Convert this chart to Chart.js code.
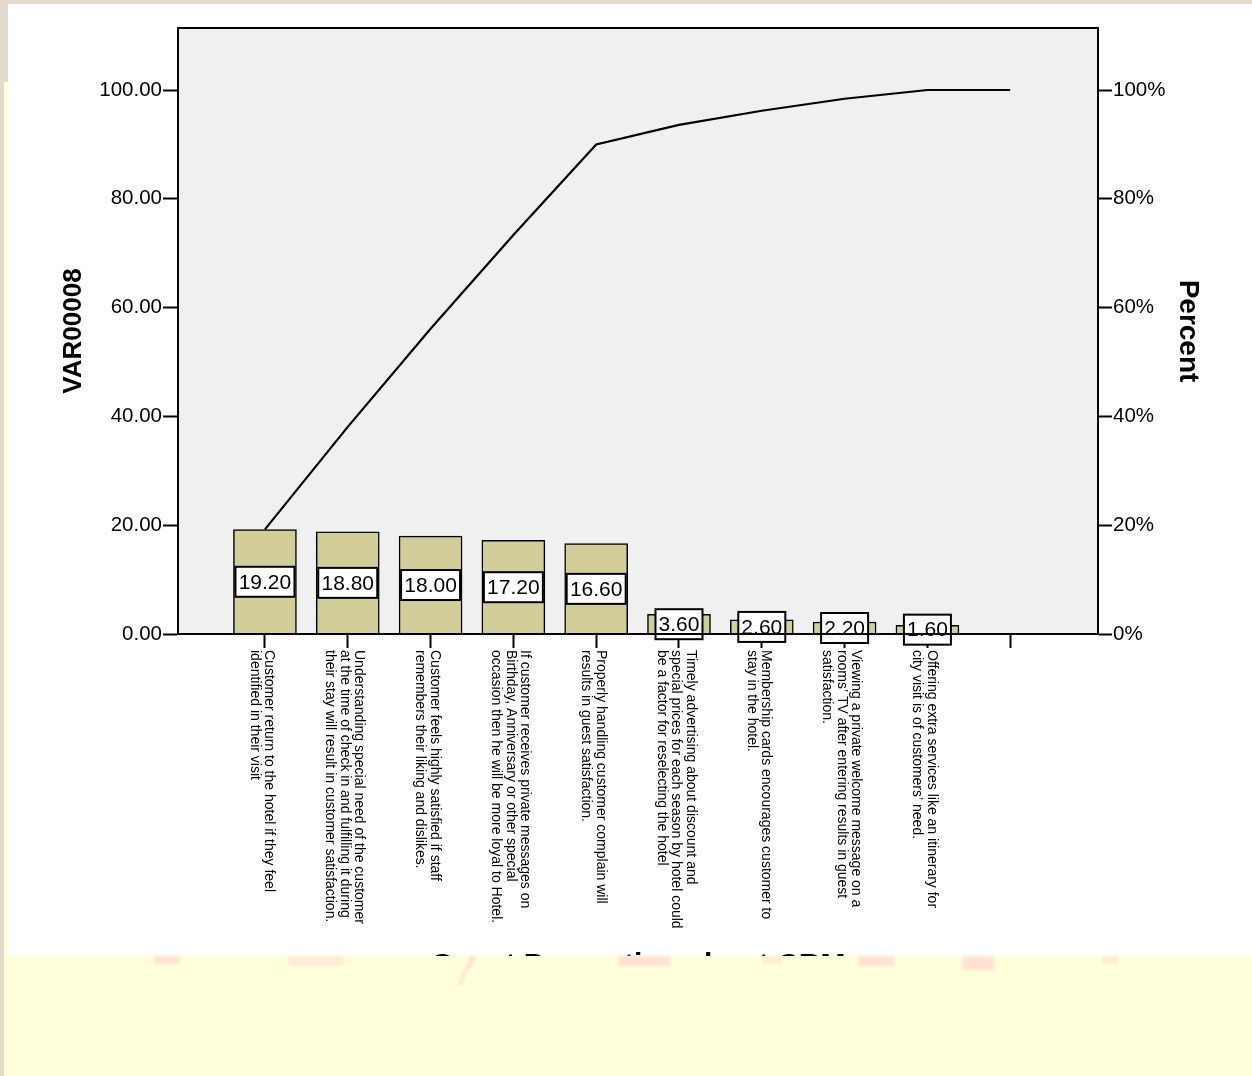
<!DOCTYPE html>
<html>
<head>
<meta charset="utf-8">
<title>Guest Perception about CRM</title>
<script src="https://cdn.jsdelivr.net/npm/chart.js@4/dist/chart.umd.min.js"></script>
<style>
  html, body { margin: 0; padding: 0; width: 1252px; height: 1076px; overflow: hidden; background: #e5dbcc; }
  #panel { position: absolute; left: 8px; top: 4px; width: 1244px; height: 952px; background: #ffffff; }
  #wrap { position: absolute; left: 0; top: 0; width: 1252px; height: 1076px; }
  #band { position: absolute; left: 4px; top: 956px; right: 0; bottom: 0; background: #ffffdc; }
  #strip { position: absolute; left: 4px; top: 82px; width: 4px; height: 874px; background: #ffffdc; }
  .blot { position: absolute; background: #ffd4d0; filter: blur(1.5px); opacity: 0.65; }
</style>
</head>
<body>
<div id="panel"></div>
<div id="wrap"><canvas id="pareto" width="1252" height="1076"></canvas></div>
<div id="strip"></div>
<div id="band">
  <div class="blot" style="left:150px;top:0;width:26px;height:8px;"></div>
  <div class="blot" style="left:284px;top:0;width:56px;height:10px;opacity:0.45;"></div>
  <div class="blot" style="left:464px;top:0;width:6px;height:12px;transform:skewX(-20deg);"></div>
  <div class="blot" style="left:456px;top:12px;width:6px;height:18px;transform:skewX(-20deg);opacity:0.45;"></div>
  <div class="blot" style="left:614px;top:0;width:52px;height:10px;"></div>
  <div class="blot" style="left:758px;top:0;width:20px;height:8px;opacity:0.45;"></div>
  <div class="blot" style="left:854px;top:0;width:36px;height:10px;"></div>
  <div class="blot" style="left:958px;top:0;width:32px;height:14px;"></div>
  <div class="blot" style="left:1098px;top:0;width:16px;height:8px;opacity:0.45;"></div>
</div>
<script>
// Category slots along the x axis (the tenth slot is empty)
const categoryLines = [
  ["Customer return to the hotel if they feel", "identified in their visit"],
  ["Understanding special need of the customer", "at the time of check in and fulfilling it during", "their stay will result in customer satisfaction."],
  ["Customer feels highly satisfied if staff", "remembers their liking and dislikes."],
  ["If customer receives private messages on", "Birthday, Anniversary or other special", "occasion then he will be more loyal to Hotel."],
  ["Properly handling customer complain will", "results in guest satisfaction."],
  ["Timely advertising about discount and", "special prices for each season by hotel could", "be a factor for reselecting the hotel"],
  ["Membership cards encourages customer to", "stay in the hotel."],
  ["Viewing a private welcome message on a", "rooms\u2019 TV after entering results in guest", "satisfaction."],
  ["Offering extra services like an itinerary for", "city visit is of customers\u2019 need."],
  []
];

// Bar heights (VAR00008)
const barValues = [19.20, 18.80, 18.00, 17.20, 16.60, 3.60, 2.60, 2.20, 1.60];

// Cumulative percent line, one point per slot
const cumulativePercent = [19.24, 38.08, 56.11, 73.35, 89.98, 93.59, 96.19, 98.40, 100.00, 100.00];

// Axis tick values
const leftTicks = [0, 20, 40, 60, 80, 100];
const rightTicks = [0, 20, 40, 60, 80, 100];

const FONT = "'Liberation Sans', Arial, Helvetica, sans-serif";
Chart.defaults.font.family = FONT;
Chart.defaults.color = '#000';

// Gray plotting panel and its frame
const panelPlugin = {
  id: 'panel',
  beforeDraw(chart) {
    const { ctx, chartArea: a } = chart;
    ctx.save();
    ctx.fillStyle = '#f0f0f0';
    ctx.fillRect(a.left, a.top, a.right - a.left, a.bottom - a.top);
    ctx.restore();
  },
  afterDraw(chart) {
    const { ctx, chartArea: a } = chart;
    ctx.save();
    ctx.strokeStyle = '#000';
    ctx.lineWidth = 2;
    ctx.beginPath();
    ctx.moveTo(a.left, a.top);
    ctx.lineTo(a.right, a.top);
    ctx.stroke();
    ctx.restore();
  }
};

// Boxed value labels in the middle of each bar
const valueBoxPlugin = {
  id: 'valueBoxes',
  afterDatasetsDraw(chart) {
    const { ctx, scales: { x, y }, chartArea: a } = chart;
    ctx.save();
    ctx.font = '21px ' + FONT;
    barValues.forEach((v, i) => {
      const cx = x.getPixelForValue(i);
      const cy = y.getPixelForValue(v / 2);
      const txt = v.toFixed(2);
      const w = Math.round(ctx.measureText(txt).width + 6);
      const h = 30;
      ctx.fillStyle = '#fff';
      ctx.fillRect(cx - w / 2, cy - h / 2, w, h);
      ctx.strokeStyle = '#000';
      ctx.lineWidth = 2;
      ctx.strokeRect(cx - w / 2, cy - h / 2, w, h);
      ctx.fillStyle = '#000';
      ctx.textAlign = 'center';
      ctx.textBaseline = 'middle';
      ctx.fillText(txt, cx, cy + 1);
    });
    // base line drawn again over the boxes
    ctx.strokeStyle = '#000';
    ctx.lineWidth = 2;
    ctx.beginPath();
    ctx.moveTo(a.left, a.bottom);
    ctx.lineTo(a.right, a.bottom);
    ctx.stroke();
    ctx.restore();
  }
};

// Category names, rotated to read top-to-bottom under each tick
const categoryLabelPlugin = {
  id: 'categoryLabels',
  afterDraw(chart) {
    const { ctx, scales: { x }, chartArea: a } = chart;
    ctx.save();
    ctx.font = '14px ' + FONT;
    ctx.fillStyle = '#000';
    ctx.textAlign = 'left';
    ctx.textBaseline = 'middle';
    const lineStep = 14.5;
    categoryLines.forEach((lines, i) => {
      const px = x.getPixelForValue(i);
      const n = lines.length;
      lines.forEach((line, j) => {
        const cx = px - 3 + ((n - 1) / 2 - j) * lineStep;
        ctx.save();
        ctx.translate(cx, a.bottom + 16);
        ctx.rotate(Math.PI / 2);
        ctx.fillText(line, 0, 0);
        ctx.restore();
      });
    });
    ctx.restore();
  }
};

const barData = barValues.map((v, i) => ({ x: i, y: v }));
const lineData = cumulativePercent.map((v, i) => ({ x: i, y: v }));

new Chart(document.getElementById('pareto'), {
  data: {
    datasets: [
      {
        type: 'line',
        data: lineData,
        yAxisID: 'y2',
        borderColor: '#000',
        borderWidth: 2.2,
        pointRadius: 0,
        tension: 0,
        order: 0
      },
      {
        type: 'bar',
        data: barData,
        yAxisID: 'y',
        backgroundColor: '#d3cd9a',
        borderColor: '#000',
        borderWidth: 1.5,
        barThickness: 63,
        order: 1
      }
    ]
  },
  options: {
    responsive: false,
    animation: false,
    layout: { padding: { top: 28, left: 0, right: 0, bottom: 0 } },
    plugins: { legend: { display: false }, tooltip: { enabled: false } },
    scales: {
      x: {
        type: 'linear',
        position: 'bottom',
        offset: false,
        min: -1.05,
        max: 10.06,
        afterBuildTicks: s => { s.ticks = categoryLines.map((_, i) => ({ value: i })); },
        afterFit: s => { s.height = 442; },
        ticks: { display: false },
        grid: { offset: false, drawOnChartArea: false, drawTicks: true, tickLength: 14, tickColor: '#000', tickWidth: 2 },
        border: { display: true, color: '#000', width: 2 },
        title: {
          display: true,
          text: 'Guest Perception about CRM',
          font: { size: 30, weight: 'bold' },
          padding: { top: 0, bottom: 92 }
        }
      },
      y: {
        type: 'linear',
        position: 'left',
        min: 0,
        max: 111.4,
        afterBuildTicks: s => { s.ticks = leftTicks.map(v => ({ value: v })); },
        afterFit: s => { s.width = 178; },
        ticks: { font: { size: 20.5 }, padding: 1, callback: v => Number(v).toFixed(2) },
        grid: { drawOnChartArea: false, drawTicks: true, tickLength: 15, tickColor: '#000', tickWidth: 2 },
        border: { display: true, color: '#000', width: 2 },
        title: {
          display: true,
          text: 'VAR00008',
          font: { size: 26, weight: 'bold' },
          padding: { top: 58, bottom: 0 }
        }
      },
      y2: {
        type: 'linear',
        position: 'right',
        min: 0,
        max: 111.4,
        afterBuildTicks: s => { s.ticks = rightTicks.map(v => ({ value: v })); },
        afterFit: s => { s.width = 154; },
        ticks: { font: { size: 20.5 }, padding: 1, callback: v => v + '%' },
        grid: { drawOnChartArea: false, drawTicks: true, tickLength: 14, tickColor: '#000', tickWidth: 2 },
        border: { display: true, color: '#000', width: 2 },
        title: {
          display: true,
          text: 'Percent',
          font: { size: 28, weight: 'bold' },
          padding: { top: 47, bottom: 0 }
        }
      }
    }
  },
  plugins: [panelPlugin, valueBoxPlugin, categoryLabelPlugin]
});
</script>
</body>
</html>
